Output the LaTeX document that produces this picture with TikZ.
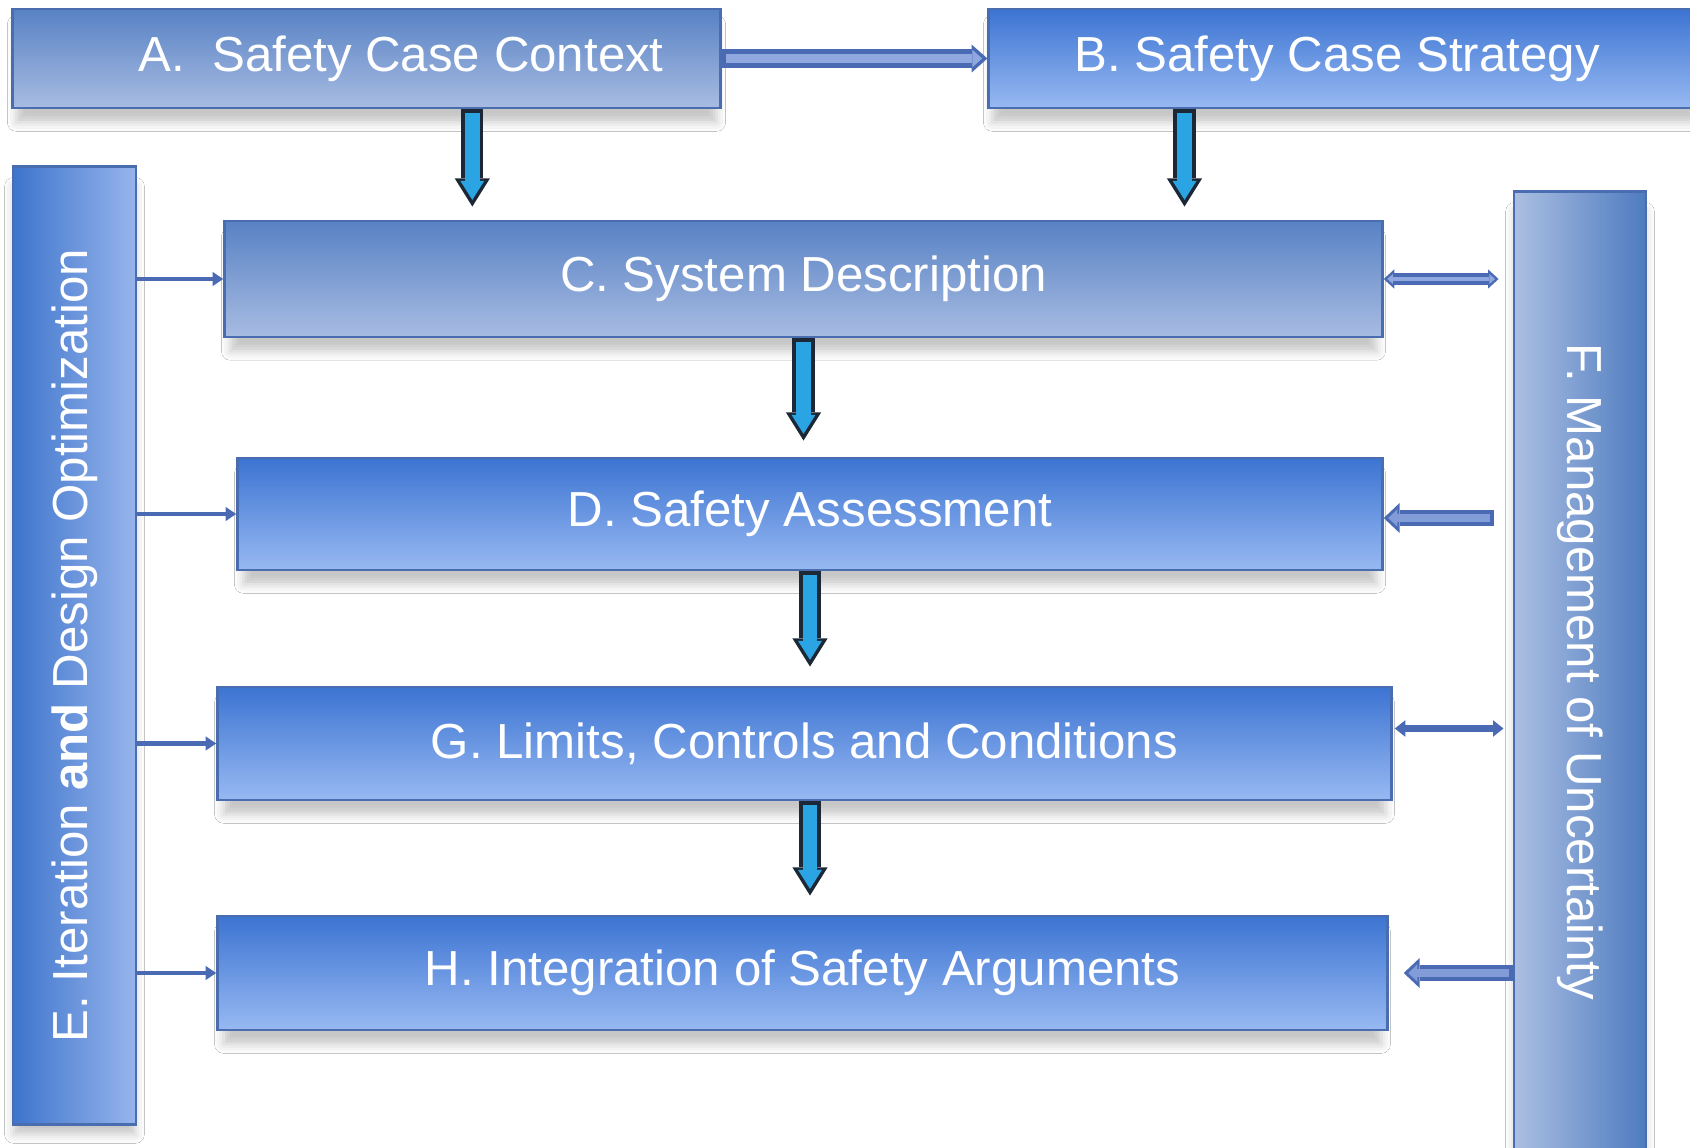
\documentclass[tikz,border=0pt]{standalone}
\usepackage{fontspec}
\setmainfont{Liberation Sans}
\usetikzlibrary{arrows.meta,shadows.blur,calc}

\definecolor{edgeblue}{HTML}{4A6DB0}
\definecolor{greytop}{HTML}{5882C4}
\definecolor{greybot}{HTML}{A8BCE2}
\definecolor{deeptop}{HTML}{3C74D2}
\definecolor{deepbot}{HTML}{98B9F2}
\definecolor{sidedeep}{HTML}{3E74CC}
\definecolor{sidepale}{HTML}{97B5EC}
\definecolor{rightpale}{HTML}{ABBFE2}
\definecolor{rightdeep}{HTML}{4E7BC0}
\definecolor{flowfill}{HTML}{2BA4E4}
\definecolor{flowedge}{HTML}{1C2836}
\definecolor{linkblue}{HTML}{4A6AB4}
\definecolor{linklight}{HTML}{8FA8E0}

\tikzset{
    stage/.style={draw=edgeblue, line width=0.8pt, inner sep=0pt, text=white,
        font=\fontsize{14}{16}\selectfont,
        blur shadow={shadow xshift=0pt, shadow yshift=-0.15cm, shadow scale=0.99,
            shadow blur radius=0.09cm, shadow opacity=22}},
    pale/.style={stage, top color=greytop, bottom color=greybot},
    deep/.style={stage, top color=deeptop, bottom color=deepbot},
    % fat cyan arrows going down
    flow/.style={line width=6.3pt, draw=flowedge, shorten >=#1,
        -{Triangle[length=8pt, width=10pt, line width=0pt]},
        postaction={draw=flowfill, line width=4.2pt, shorten <=0.9pt, shorten >=#1+1.9pt,
            -{Triangle[length=5.4pt, width=6.8pt, line width=0pt]}}},
    flow/.default=0pt,
    hollow/.style={line width=5.2pt, draw=linkblue,
        -{Triangle[length=4.5pt, width=8pt, line width=0pt]},
        postaction={draw=linklight, line width=2.6pt, shorten <=1.2pt, shorten >=1.5pt,
            -{Triangle[length=2.8pt, width=5pt, line width=0pt]}}},
    twoway/.style={line width=3.4pt, draw=linkblue, shorten <=#1, shorten >=0.14cm,
        {Triangle[length=3pt, width=5.5pt, line width=0pt]}-{Triangle[length=3pt, width=5.5pt, line width=0pt]},
        postaction={draw=linklight, line width=1.4pt, shorten <=#1+1pt, shorten >=0.14cm+1pt,
            {Triangle[length=1.6pt, width=2.8pt, line width=0pt]}-{Triangle[length=1.6pt, width=2.8pt, line width=0pt]}}},
    twoway/.default=0pt,
    back/.style={line width=4.3pt, draw=linkblue, shorten <=#1,
        -{Triangle[length=4.5pt, width=8.5pt, line width=0pt]},
        postaction={draw=linklight!80!linkblue, line width=2.3pt, shorten <=#1+1pt, shorten >=1.3pt,
            -{Triangle[length=2.6pt, width=5pt, line width=0pt]}}},
    back/.default=0pt,
    thinlink/.style={line width=2pt, draw=linkblue,
        {Triangle[length=3pt, width=4.5pt]}-{Triangle[length=3pt, width=4.5pt]}},
    feed/.style={line width=1.4pt, draw=linkblue, -{Triangle[length=3pt, width=3.8pt]}},
}

\begin{document}
\begin{tikzpicture}[x=0.01cm, y=-0.01cm]
    \fill[white] (0,0) rectangle (1690,1148);
    \useasboundingbox (0,0) rectangle (1690,1148);

    % top row
    \node[pale, minimum width=7.07cm, minimum height=0.99cm] (A) at (366.5,58.5)
        {\hspace*{0.69cm}A.\ \ Safety Case Context};
    \node[deep, minimum width=7.11cm, minimum height=0.99cm] (B) at (1344.5,58.5)
        {\hspace*{-0.15cm}B. Safety Case Strategy};

    % middle column
    \node[pale, minimum width=11.57cm, minimum height=1.16cm] (C) at (803.5,279) {C. System Description};
    \node[deep, minimum width=11.44cm, minimum height=1.12cm] (D) at (810,514) {D. Safety Assessment};
    \node[deep, minimum width=11.73cm, minimum height=1.13cm] (G) at (804.5,743.5) {G. Limits, Controls and Conditions};
    \node[deep, minimum width=11.69cm, minimum height=1.14cm] (H) at (802.5,973) {H. Integration of Safety Arguments};

    % side bars
    \node[stage, left color=sidedeep, right color=sidepale, minimum width=1.23cm, minimum height=9.57cm] (E)
        at (74.5,645.5) {\rotatebox{90}{E. Iteration \textbf{and} Design Optimization}};
    \node[stage, left color=rightpale, right color=rightdeep, minimum width=1.32cm, minimum height=9.6cm] (F)
        at (1580,672) {\rotatebox{-90}{F. Management of Uncertainty}};

    \coordinate (dropA) at ($(A.south west)!0.649!(A.south east)$);
    \coordinate (dropB) at ($(B.south west)!0.276!(B.south east)$);

    \draw[hollow] (A.east) -- (B.west);
    \draw[flow=0.13cm] (dropA) -- (dropA |- C.north);
    \draw[flow=0.13cm] (dropB) -- (dropB |- C.north);
    \draw[flow=0.16cm] (C.south) -- (C.south |- D.north);
    \draw[flow=0.19cm] (D.south) -- (D.south |- G.north);
    \draw[flow=0.19cm] (D.south |- G.south) -- (D.south |- H.north);

    \foreach \n in {C,D,G,H}
        \draw[feed] (E.east |- \n.west) -- (\n.west);

    \draw[twoway] (C.east) -- (C.east -| F.west);
    \draw[back=0.19cm] ([yshift=-0.04cm]D.east -| F.west) -- ([yshift=-0.04cm]D.east);
    \draw[thinlink, shorten <=0.02cm, shorten >=0.09cm] ([yshift=0.15cm]G.east) -- ([yshift=0.15cm]G.east -| F.west);
    \draw[back] (H.east -| F.west) -- ([xshift=0.15cm]H.east);
\end{tikzpicture}
\end{document}
